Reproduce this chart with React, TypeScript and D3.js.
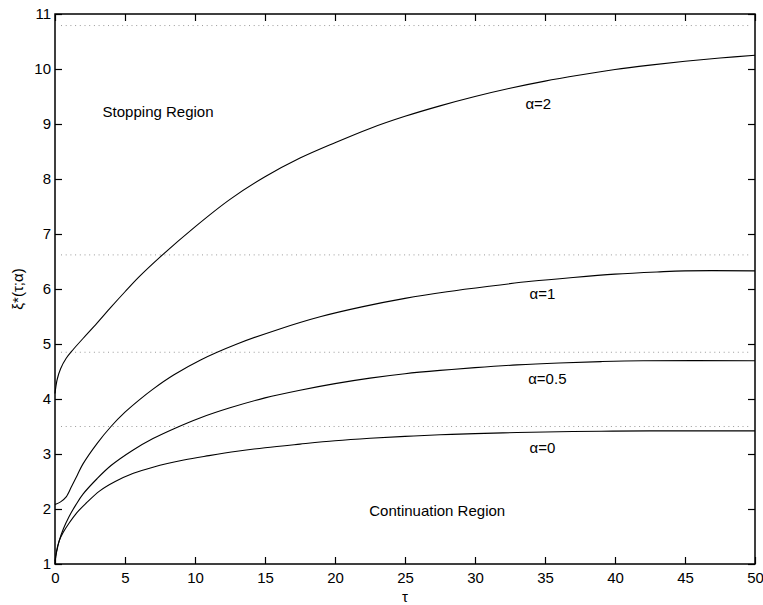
import React, { useEffect, useRef } from 'react';
import * as d3 from 'd3';

// boundary curves xi*(tau; alpha)
const alpha2: [number, number][] = [
  [0, 4.1], [0.15, 4.35], [0.4, 4.55], [0.8, 4.74], [1.3, 4.9], [2, 5.1], [3, 5.38],
  [4, 5.67], [5, 5.95], [6, 6.22], [7.5, 6.58], [10, 7.13], [12.5, 7.63], [15, 8.04],
  [17.5, 8.38], [20, 8.66], [22.5, 8.92], [25, 9.14], [27.5, 9.33], [30, 9.5],
  [32.5, 9.65], [35, 9.78], [37.5, 9.89], [40, 9.99], [42.5, 10.07], [45, 10.14],
  [47.5, 10.2], [50, 10.25],
];
const alpha1: [number, number][] = [
  [0, 2.08], [0.4, 2.13], [0.8, 2.22], [1.2, 2.42], [1.6, 2.62], [2, 2.82], [3, 3.19],
  [4, 3.5], [5, 3.76], [6, 3.98], [7, 4.18], [8.5, 4.44], [10.4, 4.71], [13, 5.0],
  [16, 5.27], [19, 5.5], [22, 5.68], [25, 5.83], [28, 5.95], [31, 6.05], [34, 6.14],
  [37, 6.21], [40, 6.27], [43, 6.31], [45, 6.33], [50, 6.33],
];
const alpha05: [number, number][] = [
  [0, 1.05], [0.1, 1.2], [0.3, 1.42], [0.6, 1.64], [1, 1.86], [1.5, 2.08], [2, 2.27],
  [3, 2.55], [4, 2.79], [5.5, 3.06], [7, 3.28], [8.5, 3.46], [10.4, 3.66], [12.5, 3.84],
  [15, 4.02], [17.5, 4.16], [20, 4.28], [22.5, 4.38], [25, 4.46], [27.5, 4.52],
  [30, 4.57], [33, 4.62], [36, 4.655], [39, 4.68], [42, 4.695], [50, 4.695],
];
const alpha0: [number, number][] = [
  [0, 1.0], [0.1, 1.22], [0.3, 1.42], [0.6, 1.58], [1, 1.74], [1.55, 1.93], [2.2, 2.1],
  [3.2, 2.33], [4.3, 2.5], [5.6, 2.65], [7, 2.76], [9.2, 2.89], [11, 2.97], [13, 3.05],
  [15, 3.115], [17.5, 3.18], [20, 3.24], [22.5, 3.285], [25, 3.32], [27.5, 3.35],
  [30, 3.37], [33, 3.39], [36, 3.405], [39, 3.415], [42.5, 3.42], [50, 3.42],
];

// dotted asymptote levels
const asymptotes = [10.79, 6.62, 4.85, 3.5];

// curve labels: [text, tau, xi]
const curveLabels: [string, number, number][] = [
  ['α=2', 33.6, 9.28],
  ['α=1', 33.9, 5.82],
  ['α=0.5', 33.8, 4.27],
  ['α=0', 33.9, 3.02],
];

const xTicks = [0, 5, 10, 15, 20, 25, 30, 35, 40, 45, 50];
const yTicks = [1, 2, 3, 4, 5, 6, 7, 8, 9, 10, 11];

export default function App() {
  const ref = useRef<SVGSVGElement>(null);

  useEffect(() => {
    const width = 763, height = 605;
    const margin = { top: 14, right: 8, bottom: 41, left: 55 };
    const svg = d3.select(ref.current);
    svg.selectAll('*').remove();

    const x = d3.scaleLinear([0, 50], [margin.left, width - margin.right]);
    const y = d3.scaleLinear([1, 11], [height - margin.bottom, margin.top]);
    const font = 'Arial, "Liberation Sans", Helvetica, sans-serif';

    // dotted lines
    svg.append('g')
      .selectAll('line')
      .data(asymptotes)
      .join('line')
      .attr('x1', x(0) + 6)
      .attr('x2', x(50) - 4)
      .attr('y1', d => y(d))
      .attr('y2', d => y(d))
      .attr('stroke', '#9a9a9a')
      .attr('stroke-width', 1)
      .attr('stroke-dasharray', '1,3.7');

    const line = d3.line<[number, number]>()
      .x(d => x(d[0]))
      .y(d => y(d[1]))
      .curve(d3.curveCatmullRom.alpha(0.5));

    svg.append('g')
      .selectAll('path')
      .data([alpha2, alpha1, alpha05, alpha0])
      .join('path')
      .attr('d', d => line(d))
      .attr('fill', 'none')
      .attr('stroke', '#000')
      .attr('stroke-width', 1.1);

    // axes: ticks inside, on all four sides
    const tickLen = 7;
    const axStyle = (g: any) => g
      .call((g: any) => g.selectAll('text').attr('font-size', 15).attr('font-family', font).attr('fill', '#000'))
      .call((g: any) => g.selectAll('.domain').remove())
      .call((g: any) => g.selectAll('line').attr('stroke', '#000').attr('stroke-width', 1.2));

    svg.append('g')
      .attr('transform', `translate(0,${height - margin.bottom})`)
      .call(d3.axisBottom(x).tickValues(xTicks).tickSize(-tickLen).tickPadding(8).tickFormat(d3.format('d')))
      .call(axStyle);
    svg.append('g')
      .attr('transform', `translate(0,${margin.top})`)
      .call(d3.axisTop(x).tickValues(xTicks).tickSize(-tickLen).tickFormat(() => ''))
      .call(axStyle);
    svg.append('g')
      .attr('transform', `translate(${margin.left},0)`)
      .call(d3.axisLeft(y).tickValues(yTicks).tickSize(-tickLen).tickPadding(4).tickFormat(d3.format('d')))
      .call(axStyle);
    svg.append('g')
      .attr('transform', `translate(${width - margin.right},0)`)
      .call(d3.axisRight(y).tickValues(yTicks).tickSize(-tickLen).tickFormat(() => ''))
      .call(axStyle);

    svg.append('rect')
      .attr('x', margin.left)
      .attr('y', margin.top)
      .attr('width', width - margin.left - margin.right)
      .attr('height', height - margin.top - margin.bottom)
      .attr('fill', 'none')
      .attr('stroke', '#000')
      .attr('stroke-width', 1.5);

    const txt = svg.append('g').attr('font-family', font).attr('font-size', 15).attr('fill', '#000');

    txt.selectAll('text.cl')
      .data(curveLabels)
      .join('text')
      .attr('class', 'cl')
      .attr('x', d => x(d[1]))
      .attr('y', d => y(d[2]))
      .text(d => d[0]);

    txt.append('text').attr('x', x(3.4)).attr('y', y(9.13)).text('Stopping Region');
    txt.append('text').attr('x', x(27.3)).attr('y', y(1.87)).attr('text-anchor', 'middle').text('Continuation Region');

    txt.append('text')
      .attr('x', x(25))
      .attr('y', 602)
      .attr('text-anchor', 'middle')
      .text('τ');
    txt.append('text')
      .attr('transform', `translate(23,289) rotate(-90)`)
      .attr('text-anchor', 'middle')
      .text('ξ*(τ;α)');
  }, []);

  return (
    <svg ref={ref} width={763} height={605}
      style={{ position: 'absolute', left: 0, top: 0, background: '#fff' }} />
  );
}
